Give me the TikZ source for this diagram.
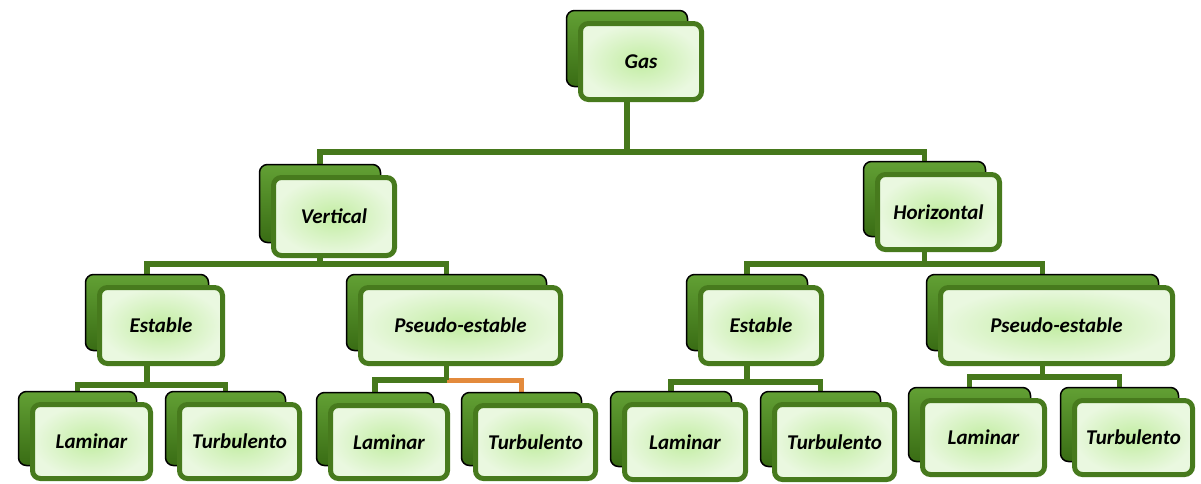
\documentclass[tikz,border=0pt]{standalone}
\usepackage{fontspec}
\setmainfont{Carlito}
\pgfdeclarelayer{bg}
\pgfsetlayers{bg,main}
\definecolor{conngreen}{HTML}{46781C}
\definecolor{frontborder}{HTML}{477A1D}
\definecolor{fin}{HTML}{C2EDA2}
\definecolor{fout}{HTML}{EAF8E0}
\definecolor{btop}{HTML}{62A034}
\definecolor{bbot}{HTML}{396C14}
\definecolor{orangeline}{HTML}{E38A3C}
\tikzset{
  frontbox/.style={rounded corners=8pt, draw=frontborder, line width=5pt,
    inner color=fin, outer color=fout, text=black, inner sep=0pt, outer sep=0pt,
    font=\fontsize{21}{24}\selectfont\bfseries\itshape},
  backbox/.style={rounded corners=8pt, draw=black, line width=1.5pt,
    top color=btop, bottom color=bbot, inner sep=0pt, outer sep=0pt},
  connline/.style={draw=conngreen, line width=5.5pt},
  orangeconn/.style={draw=orangeline, line width=5pt},
}
\newcommand\tb[6]{%
  \pgfmathsetmacro\cx{(#2+#3)/2}%
  \pgfmathsetmacro\cy{(#4+#5)/2}%
  \pgfmathsetmacro\ww{#3-#2-5}%
  \pgfmathsetmacro\hh{#5-#4-5}%
  \node[backbox, minimum width=\ww pt, minimum height=\hh pt] (#1b) at (\cx-14,\cy-13) {};
  \node[frontbox, minimum width=\ww pt, minimum height=\hh pt] (#1) at (\cx,\cy) {#6};
}
\begin{document}
\begin{tikzpicture}[x=1pt,y=-1pt]
\useasboundingbox (0,0) rectangle (1201,483);
\tb{gas}{578}{704}{21}{102}{Gas}
\tb{vert}{271}{397}{175}{258}{Vertical}
\tb{hor}{875}{1002}{172}{252}{Horizontal}
\tb{estL}{97}{225}{285}{366}{Estable}
\tb{psL}{358}{563}{285}{366}{Pseudo-estable}
\tb{estR}{698}{824}{285}{366}{Estable}
\tb{psR}{938}{1175}{285}{366}{Pseudo-estable}
\tb{lamA}{30}{153}{402}{481}{Laminar}
\tb{turA}{177}{302}{402}{481}{Turbulento}
\tb{lamB}{328}{450}{403}{481}{Laminar}
\tb{turB}{473}{598}{403}{481}{Turbulento}
\tb{lamC}{622}{748}{402}{482}{Laminar}
\tb{turC}{772}{897}{402}{482}{Turbulento}
\tb{lamD}{920}{1047}{398}{477}{Laminar}
\tb{turD}{1072}{1195}{398}{477}{Turbulento}
\begin{pgfonlayer}{bg}
  \coordinate (j0) at (gasb.center |- 0,152);
  \draw[connline] (gasb.center) -- (j0);
  \draw[connline] (vertb.north) |- (j0) -| (horb.north);
  \coordinate (j1) at (vertb.center |- 0,264);
  \draw[connline] (vertb.center) -- (j1);
  \draw[connline] (estLb.north) |- (j1) -| (psLb.north);
  \coordinate (j2) at (horb.center |- 0,264);
  \draw[connline] (horb.center) -- (j2);
  \draw[connline] (estRb.north) |- (j2) -| (psRb.north);
  \coordinate (j3) at (estLb.center |- 0,385);
  \draw[connline] (estLb.center) -- (j3);
  \draw[connline] (lamAb.north) |- (j3) -| (turAb.north);
  \coordinate (j4) at (psLb.center |- 0,380);
  \draw[orangeconn] (j4) -| (turBb.north);
  \draw[connline] (psLb.center) -- (j4);
  \draw[connline] (lamBb.north) |- (j4);
  \coordinate (j5) at (estRb.center |- 0,382);
  \draw[connline] (estRb.center) -- (j5);
  \draw[connline] (lamCb.north) |- (j5) -| (turCb.north);
  \coordinate (j6) at (psRb.center |- 0,377);
  \draw[connline] (psRb.center) -- (j6);
  \draw[connline] (lamDb.north) |- (j6) -| (turDb.north);
\end{pgfonlayer}
\end{tikzpicture}
\end{document}
